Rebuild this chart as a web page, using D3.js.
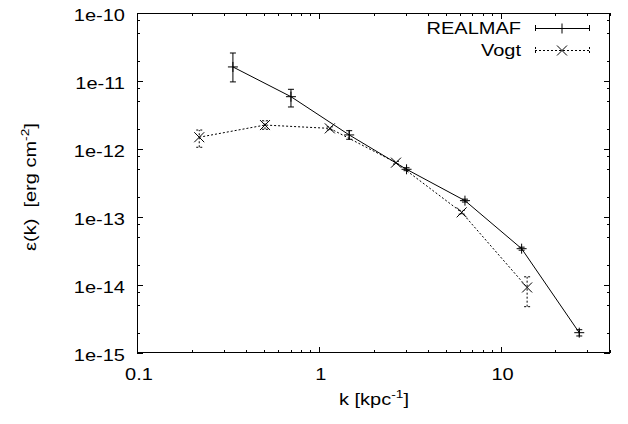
<!DOCTYPE html>
<html>
<head>
<meta charset="utf-8">
<script src="https://cdn.jsdelivr.net/npm/d3@7"></script>
<style>
  html, body { margin: 0; padding: 0; background: #fff; }
  svg { display: block; font-family: "Liberation Sans", Arial, sans-serif; }
</style>
</head>
<body>
<svg id="chart" width="628" height="424"></svg>
<script>
// Energy spectrum eps(k) for the two methods
const kRealmaf   = [0.337, 0.703, 1.47, 3.04, 6.37, 13.06, 27.1];
const epsRealmaf = [1.61e-11, 5.88e-12, 1.61e-12, 5.03e-13, 1.74e-13, 3.42e-14, 1.99e-15];
const loRealmaf  = [9.7e-12, 4.15e-12, 1.39e-12, 4.8e-13, 1.66e-13, 3.25e-14, 1.78e-15];
const hiRealmaf  = [2.58e-11, 7.55e-12, 1.86e-12, 5.3e-13, 1.83e-13, 3.6e-14, 2.2e-15];

const kVogt   = [0.220, 0.506, 1.15, 2.66, 6.11, 14.0];
const epsVogt = [1.49e-12, 2.25e-12, 2.01e-12, 6.3e-13, 1.17e-13, 9.2e-15];
const loVogt  = [1.06e-12, 1.95e-12, 1.9e-12, 6.0e-13, 1.1e-13, 4.8e-15];
const hiVogt  = [1.9e-12, 2.6e-12, 2.12e-12, 6.6e-13, 1.25e-13, 1.32e-14];

const xTickValues = [0.1, 1, 10];
const xTickLabels = ["0.1", "1", "10"];
const yTickValues = [1e-15, 1e-14, 1e-13, 1e-12, 1e-11, 1e-10];
const yTickLabels = ["1e-15", "1e-14", "1e-13", "1e-12", "1e-11", "1e-10"];
const seriesNames = ["REALMAF", "Vogt"];

const svg = d3.select("#chart");
const L = 137, R = 610, T = 13, B = 353;

const x = d3.scaleLog().domain([0.1, 40]).range([L, R]);
const y = d3.scaleLog().domain([1e-15, 1e-10]).range([B, T]);

// minor tick positions
const xMinor = [];
[0.1, 1, 10].forEach(d => { for (let m = 2; m <= 9; m++) { const v = d * m; if (v <= 40) xMinor.push(v); } });
const yMinor = [];
[1e-15, 1e-14, 1e-13, 1e-12, 1e-11].forEach(d => [2, 5, 8].forEach(m => yMinor.push(d * m)));

const axes = svg.append("g").attr("stroke", "#000").attr("stroke-width", 1);
const majorLen = 6, minorLen = 3;

// bottom and top ticks
xTickValues.forEach(v => {
  const px = Math.round(x(v)) + 0.5;
  axes.append("line").attr("x1", px).attr("x2", px).attr("y1", B).attr("y2", B - majorLen);
  axes.append("line").attr("x1", px).attr("x2", px).attr("y1", T).attr("y2", T + majorLen);
});
xMinor.forEach(v => {
  const px = Math.round(x(v)) + 0.5;
  axes.append("line").attr("x1", px).attr("x2", px).attr("y1", B).attr("y2", B - minorLen);
  axes.append("line").attr("x1", px).attr("x2", px).attr("y1", T).attr("y2", T + minorLen);
});
// left and right ticks
yTickValues.forEach(v => {
  const py = Math.round(y(v)) + 0.5;
  axes.append("line").attr("x1", L).attr("x2", L + majorLen).attr("y1", py).attr("y2", py);
  axes.append("line").attr("x1", R).attr("x2", R - majorLen).attr("y1", py).attr("y2", py);
});
yMinor.forEach(v => {
  const py = Math.round(y(v)) + 0.5;
  axes.append("line").attr("x1", L).attr("x2", L + minorLen).attr("y1", py).attr("y2", py);
  axes.append("line").attr("x1", R).attr("x2", R - minorLen).attr("y1", py).attr("y2", py);
});

// frame
svg.append("rect").attr("x", L + 0.5).attr("y", T + 0.5)
  .attr("width", R - L - 1).attr("height", B - T - 1)
  .attr("fill", "none").attr("stroke", "#000").attr("stroke-width", 1);

// text helper: slightly wide lettering
const fs = 16, sx = 1.25;
function label(px, py, anchor, rot) {
  return svg.append("text")
    .attr("transform", `translate(${px},${py})` + (rot ? ` rotate(${rot})` : "") + ` scale(${sx},1)`)
    .attr("text-anchor", anchor).attr("font-size", fs).attr("fill", "#000");
}

// tick labels
xTickValues.forEach((v, i) => label(x(v) + 2, 380, "middle").text(xTickLabels[i]));
yTickValues.forEach((v, i) => label(125, y(v) + 8, "end").text(yTickLabels[i]));

// axis titles
const xt = label(374, 405, "middle");
xt.append("tspan").text("k [kpc");
xt.append("tspan").attr("dy", -7).attr("font-size", 11).text("-1");
xt.append("tspan").attr("dy", 7).text("]");

const yt = label(36, 187, "middle", -90);
yt.append("tspan").text("\u03b5(k)\u00a0\u00a0[erg cm");
yt.append("tspan").attr("dy", -7).attr("font-size", 11).text("-2");
yt.append("tspan").attr("dy", 7).text("]");

// drawing helpers
function errorBars(g, ks, lo, hi, dash) {
  ks.forEach((k, i) => {
    const px = x(k), cap = 3;
    g.append("line").attr("x1", px).attr("x2", px).attr("y1", y(lo[i])).attr("y2", y(hi[i]))
      .attr("stroke-dasharray", dash);
    g.append("line").attr("x1", px - cap).attr("x2", px + cap).attr("y1", y(lo[i])).attr("y2", y(lo[i]))
      .attr("stroke-dasharray", dash);
    g.append("line").attr("x1", px - cap).attr("x2", px + cap).attr("y1", y(hi[i])).attr("y2", y(hi[i]))
      .attr("stroke-dasharray", dash);
  });
}
function plusMark(g, px, py, s) {
  g.append("line").attr("x1", px - s).attr("x2", px + s).attr("y1", py).attr("y2", py);
  g.append("line").attr("x1", px).attr("x2", px).attr("y1", py - s).attr("y2", py + s);
}
function crossMark(g, px, py, s) {
  g.append("line").attr("x1", px - s).attr("x2", px + s).attr("y1", py - s).attr("y2", py + s);
  g.append("line").attr("x1", px - s).attr("x2", px + s).attr("y1", py + s).attr("y2", py - s);
}

const line = d3.line().x(d => x(d[0])).y(d => y(d[1]));

// REALMAF series: solid line with plus markers
const gR = svg.append("g").attr("stroke", "#000").attr("stroke-width", 1).attr("fill", "none");
gR.append("path").attr("d", line(kRealmaf.map((k, i) => [k, epsRealmaf[i]])));
errorBars(gR, kRealmaf, loRealmaf, hiRealmaf, null);
kRealmaf.forEach((k, i) => plusMark(gR, x(k), y(epsRealmaf[i]), 5));

// Vogt series: dotted line with cross markers
const gV = svg.append("g").attr("stroke", "#000").attr("stroke-width", 1).attr("fill", "none");
gV.append("path").attr("d", line(kVogt.map((k, i) => [k, epsVogt[i]]))).attr("stroke-dasharray", "2,2");
errorBars(gV, kVogt, loVogt, hiVogt, "2,2");
kVogt.forEach((k, i) => crossMark(gV, x(k), y(epsVogt[i]), 5));

// legend
const legY = [28, 50];
seriesNames.forEach((name, i) => {
  label(521, legY[i] + 6, "end").text(name);
  const g = svg.append("g").attr("stroke", "#000").attr("stroke-width", 1).attr("fill", "none");
  const dash = i === 0 ? null : "2,2";
  g.append("line").attr("x1", 535).attr("x2", 590).attr("y1", legY[i] + 0.5).attr("y2", legY[i] + 0.5).attr("stroke-dasharray", dash);
  g.append("line").attr("x1", 535.5).attr("x2", 535.5).attr("y1", legY[i] - 3).attr("y2", legY[i] + 3).attr("stroke-dasharray", dash);
  g.append("line").attr("x1", 589.5).attr("x2", 589.5).attr("y1", legY[i] - 3).attr("y2", legY[i] + 3).attr("stroke-dasharray", dash);
  if (i === 0) plusMark(g, 562, legY[i] + 0.5, 5); else crossMark(g, 562, legY[i] + 0.5, 5);
});
</script>
</body>
</html>
